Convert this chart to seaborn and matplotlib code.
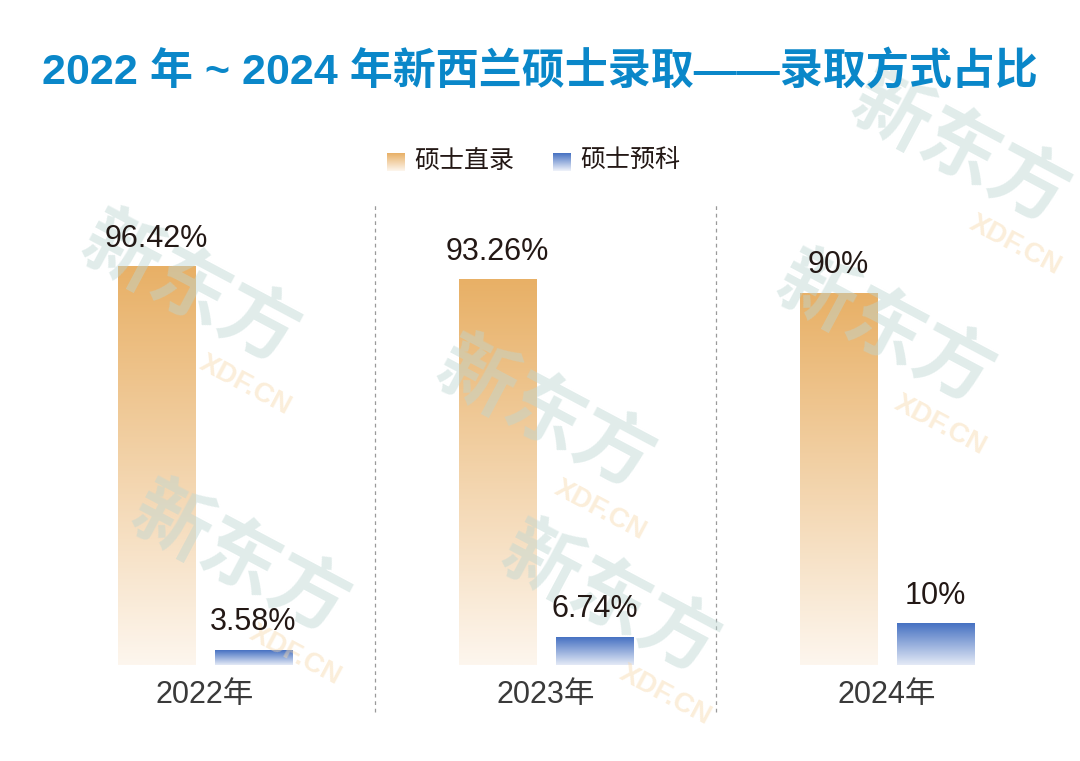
import numpy as np
import pandas as pd
import seaborn as sns
import matplotlib.pyplot as plt
from matplotlib.colors import to_rgb

years = ["2022年", "2023年", "2024年"]
methods = ["硕士直录", "硕士预科"]
direct = [96.42, 93.26, 90.0]
foundation = [3.58, 6.74, 10.0]
value_labels = {"硕士直录": ["96.42%", "93.26%", "90%"],
                "硕士预科": ["3.58%", "6.74%", "10%"]}

df = pd.DataFrame({
    "year": years * 2,
    "method": [methods[0]] * 3 + [methods[1]] * 3,
    "pct": direct + foundation,
})

sns.set_theme(style="white")
plt.rcParams['font.family'] = ['Liberation Sans', 'Noto Sans CJK SC', 'DejaVu Sans']

ORANGE_TOP, ORANGE_BOT = "#e8b066", "#fdf6ee"
BLUE_TOP, BLUE_BOT = "#4671c2", "#e4eaf6"
TEXT = "#231815"


def gradient(top, bottom, n=256):
    t = np.linspace(0, 1, n)[:, None]
    a, b = np.array(to_rgb(bottom)), np.array(to_rgb(top))
    return (a + (b - a) * t)[:, None, :]


fig = plt.figure(figsize=(10.8, 7.61), dpi=100)
fig.patch.set_facecolor("white")

ax = fig.add_axes([0, 0.1261, 1, 0.611])
ax.patch.set_alpha(0)
sns.barplot(data=df, x="year", y="pct", hue="method", hue_order=methods,
            width=0.568, gap=0.2, ax=ax, legend=False,
            palette=[ORANGE_TOP, BLUE_TOP])
ax.set_xlim(-0.601, 2.566)
ax.set_ylim(0, 112.6)

# faint watermark, over the bars but under the labels
for px, py in [(190, 290), (545, 415), (885, 330), (240, 560), (610, 600), (960, 150)]:
    ax.text(px / 1080, 1 - py / 761, "新东方", fontsize=56, fontweight="bold",
            color="#bcd6d2", alpha=0.45, rotation=-28, ha="center", va="center",
            family="Noto Sans CJK SC", transform=fig.transFigure, zorder=2.5)
    ax.text((px + 55) / 1080, 1 - (py + 95) / 761, "XDF.CN", fontsize=20,
            fontweight="bold", color="#f7d9ad", alpha=0.45, rotation=-28,
            ha="center", va="center", transform=fig.transFigure, zorder=2.5)

for container, m in zip(ax.containers, methods):
    top, bot = (ORANGE_TOP, ORANGE_BOT) if m == methods[0] else (BLUE_TOP, BLUE_BOT)
    for patch, lab in zip(container, value_labels[m]):
        x0, y0 = patch.get_x(), patch.get_y()
        w, h = patch.get_width(), patch.get_height()
        patch.set_facecolor("none")
        patch.set_edgecolor("none")
        ax.imshow(gradient(top, bot), extent=(x0, x0 + w, y0, y0 + h),
                  origin="lower", aspect="auto", zorder=2)
        ax.text(x0 + w / 2, h + 3.2, lab, ha="center", va="bottom",
                fontsize=22, color=TEXT, zorder=4)

for xs in [0.5, 1.5]:
    ax.plot([xs, xs], [-11.4, 111.4], ls=(0, (3, 3)), lw=0.9, color="#9a9a9a",
            clip_on=False, zorder=1)

ax.set_xticks(range(len(years)))
ax.set_xticklabels(years, fontsize=22, color="#3a3a3a")
ax.tick_params(axis="x", length=0, pad=11)
ax.set_yticks([])
ax.set_xlabel("")
ax.set_ylabel("")
sns.despine(ax=ax, left=True, bottom=True)

# legend with gradient swatches
for lx, m, (top, bot) in [(387, methods[0], (ORANGE_TOP, ORANGE_BOT)),
                          (553, methods[1], (BLUE_TOP, "#f0f3fa"))]:
    sw = fig.add_axes([lx / 1080, (761 - 171) / 761, 18 / 1080, 18 / 761])
    sw.imshow(gradient(top, bot), origin="lower", aspect="auto")
    sw.axis("off")
    fig.text((lx + 27) / 1080, (761 - 161) / 761, m, fontsize=18, color=TEXT,
             va="center", ha="left", family="Noto Sans CJK SC")

fig.text(0.5, (761 - 72) / 761, "2022 年 ~ 2024 年新西兰硕士录取——录取方式占比",
         fontsize=31, fontweight="bold", color="#0a87c9", ha="center", va="center")

fig.savefig("out.png", dpi=100)
